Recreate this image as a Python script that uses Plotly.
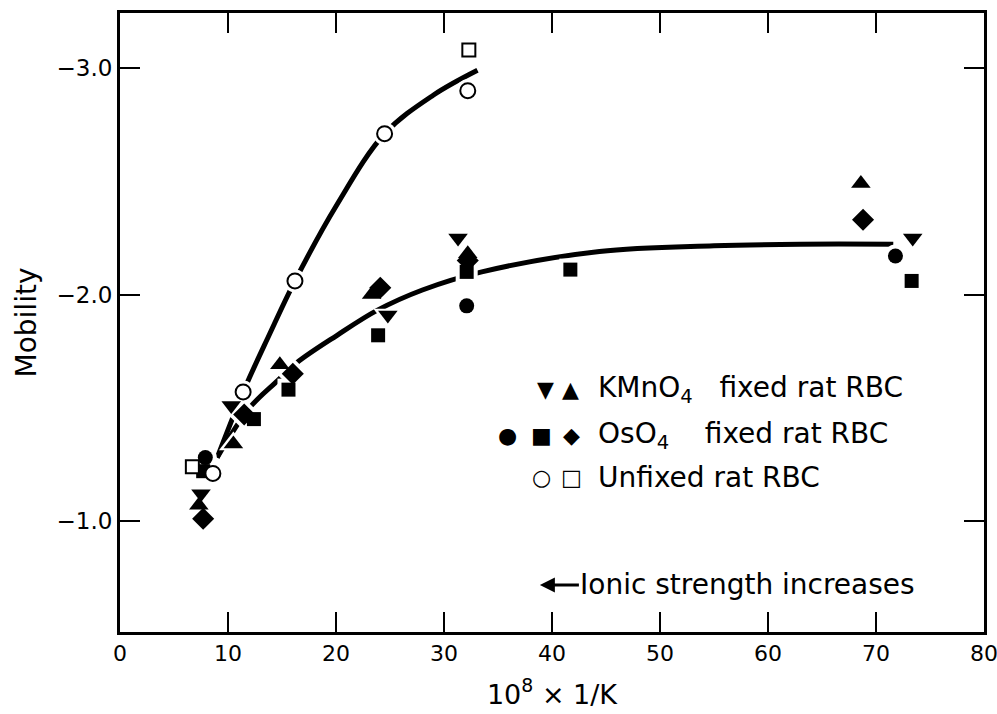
import plotly.graph_objects as go

# ---- data ----
kmno4_down_x = [7.5, 10.3, 24.8, 31.3, 73.4]
kmno4_down_y = [-1.12, -1.51, -1.91, -2.25, -2.25]
kmno4_up_x = [7.3, 10.5, 14.8, 23.3, 32.2, 68.6]
kmno4_up_y = [-1.07, -1.34, -1.69, -2.00, -2.18, -2.49]

oso4_circle_x = [7.9, 32.1, 71.8]
oso4_circle_y = [-1.28, -1.95, -2.17]
oso4_square_x = [7.7, 12.4, 15.6, 23.9, 32.1, 41.7, 73.3]
oso4_square_y = [-1.22, -1.45, -1.58, -1.82, -2.10, -2.11, -2.06]
oso4_diamond_x = [7.7, 11.5, 16.0, 24.1, 32.2, 68.8]
oso4_diamond_y = [-1.01, -1.47, -1.65, -2.03, -2.15, -2.33]

unfixed_circle_x = [8.6, 11.4, 16.2, 24.5, 32.2]
unfixed_circle_y = [-1.21, -1.57, -2.06, -2.71, -2.90]
unfixed_square_x = [6.7, 32.3]
unfixed_square_y = [-1.24, -3.08]

# fitted curves (knots)
unfixed_curve_x = [9.0, 11.5, 13.8, 16.2, 20.0, 24.5, 29.0, 33.1]
unfixed_curve_y = [-1.28, -1.58, -1.82, -2.06, -2.39, -2.71, -2.88, -2.99]
fixed_curve_x = [9.0, 12.0, 14.6, 16.4, 20.1, 23.8, 28.0, 33.5, 44.4, 55.0, 63.0, 71.6]
fixed_curve_y = [-1.28, -1.50, -1.62, -1.70, -1.82, -1.93, -2.02, -2.10, -2.19, -2.215, -2.222, -2.222]

x_ticks = [0, 10, 20, 30, 40, 50, 60, 70, 80]
y_ticks = [-3.0, -2.0, -1.0]
y_tick_text = ["−3.0", "−2.0", "−1.0"]

FONT = "DejaVu Sans"
NB = "\u00a0"
fig = go.Figure()

# curves
for cx, cy in [(unfixed_curve_x, unfixed_curve_y), (fixed_curve_x, fixed_curve_y)]:
    fig.add_trace(go.Scatter(x=cx, y=cy, mode="lines", line=dict(color="black", width=5, shape="spline", smoothing=1.0),
                             hoverinfo="skip", showlegend=False))

series = [
    (kmno4_down_x, kmno4_down_y, "triangle-down", 17, "black"),
    (kmno4_up_x, kmno4_up_y, "triangle-up", 17, "black"),
    (oso4_circle_x, oso4_circle_y, "circle", 15, "black"),
    (oso4_square_x, oso4_square_y, "square", 14, "black"),
    (oso4_diamond_x, oso4_diamond_y, "diamond", 17, "black"),
    (unfixed_circle_x, unfixed_circle_y, "circle", 15, "white"),
    (unfixed_square_x, unfixed_square_y, "square", 13, "white"),
]

# white halos that break the curves around the points
for sx, sy, sym, size, fill in series:
    fig.add_trace(go.Scatter(x=sx, y=sy, mode="markers",
                             marker=dict(symbol=sym, size=size + 8, color="white", line=dict(width=0)),
                             hoverinfo="skip", showlegend=False))
# the points
for sx, sy, sym, size, fill in series:
    fig.add_trace(go.Scatter(x=sx, y=sy, mode="markers",
                             marker=dict(symbol=sym, size=size, color=fill,
                                         line=dict(color="black", width=2 if fill == "white" else 0)),
                             showlegend=False))

annotations = []
# legend rows
leg_rows = [
    (0.391, [("▼", 0.492), ("▲", 0.521)], "KMnO<sub>4</sub>" + NB * 3 + "fixed rat RBC"),
    (0.318, [("●", 0.449), ("■", 0.488), ("◆", 0.523)], "OsO<sub>4</sub>" + NB * 4 + "fixed rat RBC"),
    (0.250, [("○", 0.488), ("□", 0.523)], "Unfixed rat RBC"),
]
for yy, glyphs, label in leg_rows:
    for g, gx in glyphs:
        annotations.append(dict(x=gx, y=yy, xref="paper", yref="paper", text=g, showarrow=False,
                                xanchor="center", yanchor="middle",
                                font=dict(family="DejaVu Sans", size=22, color="black")))
    annotations.append(dict(x=0.551, y=yy, xref="paper", yref="paper", text=label, showarrow=False,
                            xanchor="left", yanchor="middle",
                            font=dict(family=FONT, size=28, color="black")))

# ionic strength arrow
annotations.append(dict(x=0.486, y=0.076, xref="paper", yref="paper", text="Ionic strength increases",
                        showarrow=True, ax=208, ay=0, arrowhead=2, arrowsize=1, arrowwidth=3,
                        arrowcolor="black", standoff=0,
                        font=dict(family=FONT, size=28, color="black")))

fig.update_layout(
    width=997, height=714,
    margin=dict(l=120, r=13, t=13, b=82, autoexpand=False),
    paper_bgcolor="white", plot_bgcolor="white",
    font=dict(family=FONT, color="black", size=20),
    annotations=annotations,
    xaxis=dict(range=[0, 80], tickvals=x_ticks, ticks="inside", ticklen=20, tickwidth=2, tickcolor="black",
               showline=True, linecolor="black", linewidth=3, mirror="ticks", showgrid=False, zeroline=False,
               automargin=False, ticklabeloverflow="allow", tickfont=dict(family=FONT, size=22),
               title=dict(text="10<sup>8</sup> × 1/K", font=dict(family=FONT, size=27), standoff=20)),
    yaxis=dict(range=[-0.51, -3.243], tickvals=y_ticks, ticktext=y_tick_text, ticks="inside", ticklen=20,
               tickwidth=2, tickcolor="black", showline=True, linecolor="black", linewidth=3, mirror="ticks",
               showgrid=False, zeroline=False, automargin=False, tickfont=dict(family=FONT, size=23),
               title=dict(text="Mobility", font=dict(family=FONT, size=28), standoff=12)),
)

fig.write_html("out.html")
